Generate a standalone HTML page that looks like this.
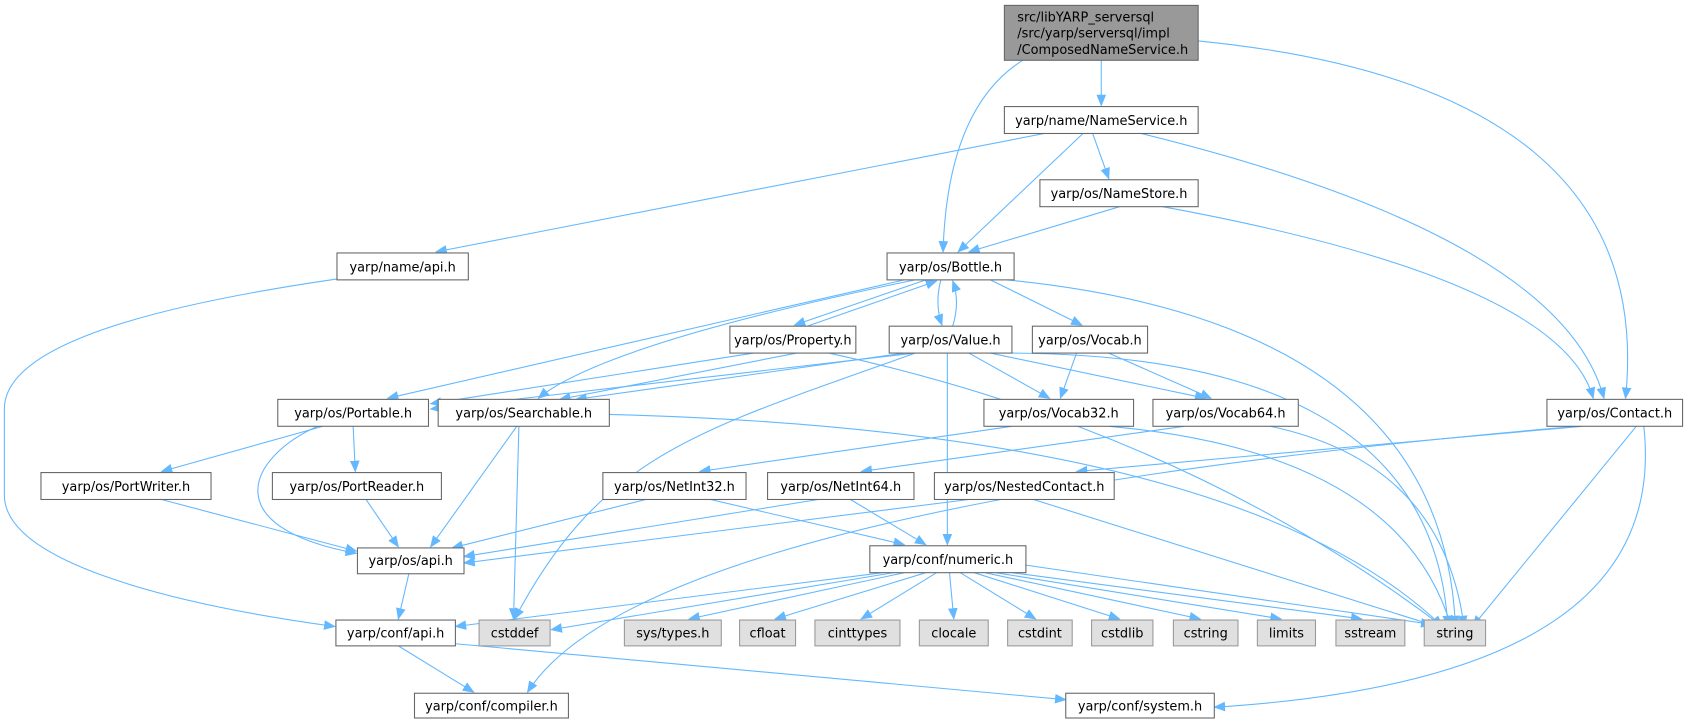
<!DOCTYPE html>
<html><head><meta charset="utf-8"><style>
html,body{margin:0;padding:0;background:#fff;}
svg{display:block;}
text{font-family:"DejaVu Sans","Liberation Sans",sans-serif;font-size:12px;fill:#000;text-anchor:middle;}
.b{fill:#fff;stroke:#666;stroke-width:1;}
.g{fill:#e0e0e0;stroke:#999;stroke-width:1;}
.r{fill:#999;stroke:#666;stroke-width:1;}
path.e{fill:none;stroke:#63b8ff;stroke-width:1;marker-end:url(#a);}
</style></head><body>
<svg width="1688" height="725" viewBox="0 0 1568 673.5" xmlns="http://www.w3.org/2000/svg">
<defs><marker id="a" markerUnits="userSpaceOnUse" markerWidth="11" markerHeight="9" refX="10" refY="4.5" orient="auto"><path d="M0,0 L11,4.5 L0,9 z" fill="#63b8ff"/></marker></defs>
<g>
<path class="e" d="M1023,56 L1023,98"/>
<path class="e" d="M950,56 Q880,100 876,234"/>
<path class="e" d="M1113,38 Q1540,80 1510,370"/>
<path class="e" d="M970,124 L405,234"/>
<path class="e" d="M1006,124 L890,234"/>
<path class="e" d="M1015,124 L1030,166"/>
<path class="e" d="M1060,124 Q1450,220 1490,370"/>
<path class="e" d="M1040,192 L900,234"/>
<path class="e" d="M1080,192 Q1450,260 1480,370"/>
<path class="e" d="M314,259 C100,290 4,330 4,380 L4,460 C4,520 150,560 311,582"/>
<path class="e" d="M840,260 L360,370"/>
<path class="e" d="M850,260 Q560,320 500,370"/>
<path class="e" d="M860,260 L738,302"/>
<path class="e" d="M750,303 L870,261"/>
<path class="e" d="M874,260 Q868,282 875,302"/>
<path class="e" d="M885,303 Q892,280 885,261"/>
<path class="e" d="M920,260 L1005,302"/>
<path class="e" d="M935,260 Q1340,300 1352,582"/>
<path class="e" d="M700,328 L400,375"/>
<path class="e" d="M740,328 L520,371"/>
<path class="e" d="M770,328 Q1100,400 1340,582"/>
<path class="e" d="M850,328 L400,380"/>
<path class="e" d="M840,328 L535,371"/>
<path class="e" d="M850,328 C650,400 560,420 478,575"/>
<path class="e" d="M880,328 L880,506"/>
<path class="e" d="M900,328 L975,370"/>
<path class="e" d="M920,328 L1120,370"/>
<path class="e" d="M940,328 Q1330,330 1345,582"/>
<path class="e" d="M1000,328 L985,370"/>
<path class="e" d="M1030,328 L1125,370"/>
<path class="e" d="M940,396 L650,438"/>
<path class="e" d="M1030,396 Q1300,420 1348,582"/>
<path class="e" d="M1100,396 L800,438"/>
<path class="e" d="M1180,396 Q1340,430 1360,582"/>
<path class="e" d="M300,396 L150,438"/>
<path class="e" d="M328,396 L330,438"/>
<path class="e" d="M295,396 C230,425 200,490 331,514"/>
<path class="e" d="M480,396 L400,508"/>
<path class="e" d="M482,396 L477,575"/>
<path class="e" d="M566,385 Q1150,400 1340,582"/>
<path class="e" d="M150,464 L331,512"/>
<path class="e" d="M340,464 L370,508"/>
<path class="e" d="M600,464 L420,509"/>
<path class="e" d="M660,464 L840,506"/>
<path class="e" d="M760,464 L431,517"/>
<path class="e" d="M790,464 L860,506"/>
<path class="e" d="M900,464 L431,523"/>
<path class="e" d="M960,464 L1335,582"/>
<path class="e" d="M1470,396 L1000,438"/>
<path class="e" d="M1465,396 Q600,470 490,643"/>
<path class="e" d="M1520,396 L1368,582"/>
<path class="e" d="M1527,396 C1545,560 1400,640 1128,657"/>
<path class="e" d="M380,532 L370,575"/>
<path class="e" d="M820,532 L423,582"/>
<path class="e" d="M830,532 L512,585"/>
<path class="e" d="M840,532 L640,575"/>
<path class="e" d="M860,532 L720,575"/>
<path class="e" d="M870,532 L800,575"/>
<path class="e" d="M882,532 L886,575"/>
<path class="e" d="M892,532 L962,575"/>
<path class="e" d="M905,532 L1040,575"/>
<path class="e" d="M915,532 L1115,575"/>
<path class="e" d="M925,532 L1190,575"/>
<path class="e" d="M940,532 L1265,575"/>
<path class="e" d="M953,525 L1330,580"/>
<path class="e" d="M370,600 L440,643"/>
<path class="e" d="M423,598 L990,650"/>
</g>
<g>
<rect class="r" x="933" y="5" width="180" height="51"/>
<text x="945" y="20" style="text-anchor:start">src/libYARP_serversql</text>
<text x="945" y="35" style="text-anchor:start">/src/yarp/serversql/impl</text>
<text x="945" y="50" style="text-anchor:start">/ComposedNameService.h</text>

<rect class="b" x="933" y="99" width="180" height="25"/><text x="1023" y="116">yarp/name/NameService.h</text>
<rect class="b" x="966" y="167" width="147" height="25"/><text x="1039.5" y="184">yarp/os/NameStore.h</text>
<rect class="b" x="824" y="235" width="118" height="25"/><text x="883" y="252">yarp/os/Bottle.h</text>
<rect class="b" x="313" y="235" width="122" height="25"/><text x="374" y="252">yarp/name/api.h</text>
<rect class="b" x="678" y="303" width="117" height="25"/><text x="736.5" y="320">yarp/os/Property.h</text>
<rect class="b" x="826" y="303" width="114" height="25"/><text x="883" y="320">yarp/os/Value.h</text>
<rect class="b" x="959" y="303" width="107" height="25"/><text x="1012.5" y="320">yarp/os/Vocab.h</text>
<rect class="b" x="1437" y="371" width="126" height="25"/><text x="1500" y="388">yarp/os/Contact.h</text>
<rect class="b" x="258" y="371" width="140" height="25"/><text x="328" y="388">yarp/os/Portable.h</text>
<rect class="b" x="407" y="371" width="159" height="25"/><text x="486.5" y="388">yarp/os/Searchable.h</text>
<rect class="b" x="914" y="371" width="139" height="25"/><text x="983.5" y="388">yarp/os/Vocab32.h</text>
<rect class="b" x="1071" y="371" width="135" height="25"/><text x="1138.5" y="388">yarp/os/Vocab64.h</text>
<rect class="b" x="38" y="439" width="158" height="25"/><text x="117" y="456">yarp/os/PortWriter.h</text>
<rect class="b" x="253" y="439" width="157" height="25"/><text x="331.5" y="456">yarp/os/PortReader.h</text>
<rect class="b" x="560" y="439" width="133" height="25"/><text x="626.5" y="456">yarp/os/NetInt32.h</text>
<rect class="b" x="713" y="439" width="136" height="25"/><text x="781" y="456">yarp/os/NetInt64.h</text>
<rect class="b" x="868" y="439" width="167" height="25"/><text x="951.5" y="456">yarp/os/NestedContact.h</text>
<rect class="b" x="332" y="509" width="99" height="24"/><text x="381.5" y="525">yarp/os/api.h</text>
<rect class="b" x="808" y="507" width="145" height="25"/><text x="880.5" y="524">yarp/conf/numeric.h</text>
<rect class="b" x="312" y="576" width="111" height="24"/><text x="367.5" y="592">yarp/conf/api.h</text>
<rect class="g" x="445" y="576" width="66" height="24"/><text x="478" y="592">cstddef</text>
<rect class="g" x="580" y="576" width="90" height="24"/><text x="625" y="592">sys/types.h</text>
<rect class="g" x="687" y="576" width="52" height="24"/><text x="713" y="592">cfloat</text>
<rect class="g" x="757" y="576" width="79" height="24"/><text x="796.5" y="592">cinttypes</text>
<rect class="g" x="854" y="576" width="64" height="24"/><text x="886" y="592">clocale</text>
<rect class="g" x="936" y="576" width="60" height="24"/><text x="966" y="592">cstdint</text>
<rect class="g" x="1014" y="576" width="57" height="24"/><text x="1042.5" y="592">cstdlib</text>
<rect class="g" x="1090" y="576" width="60" height="24"/><text x="1120" y="592">cstring</text>
<rect class="g" x="1168" y="576" width="54" height="24"/><text x="1195" y="592">limits</text>
<rect class="g" x="1241" y="576" width="64" height="24"/><text x="1273" y="592">sstream</text>
<rect class="g" x="1323" y="576" width="57" height="24"/><text x="1351.5" y="592">string</text>
<rect class="b" x="385" y="644" width="143" height="23"/><text x="456.5" y="660">yarp/conf/compiler.h</text>
<rect class="b" x="990" y="644" width="138" height="23"/><text x="1059" y="660">yarp/conf/system.h</text>
</g>
</svg>
</body></html>
